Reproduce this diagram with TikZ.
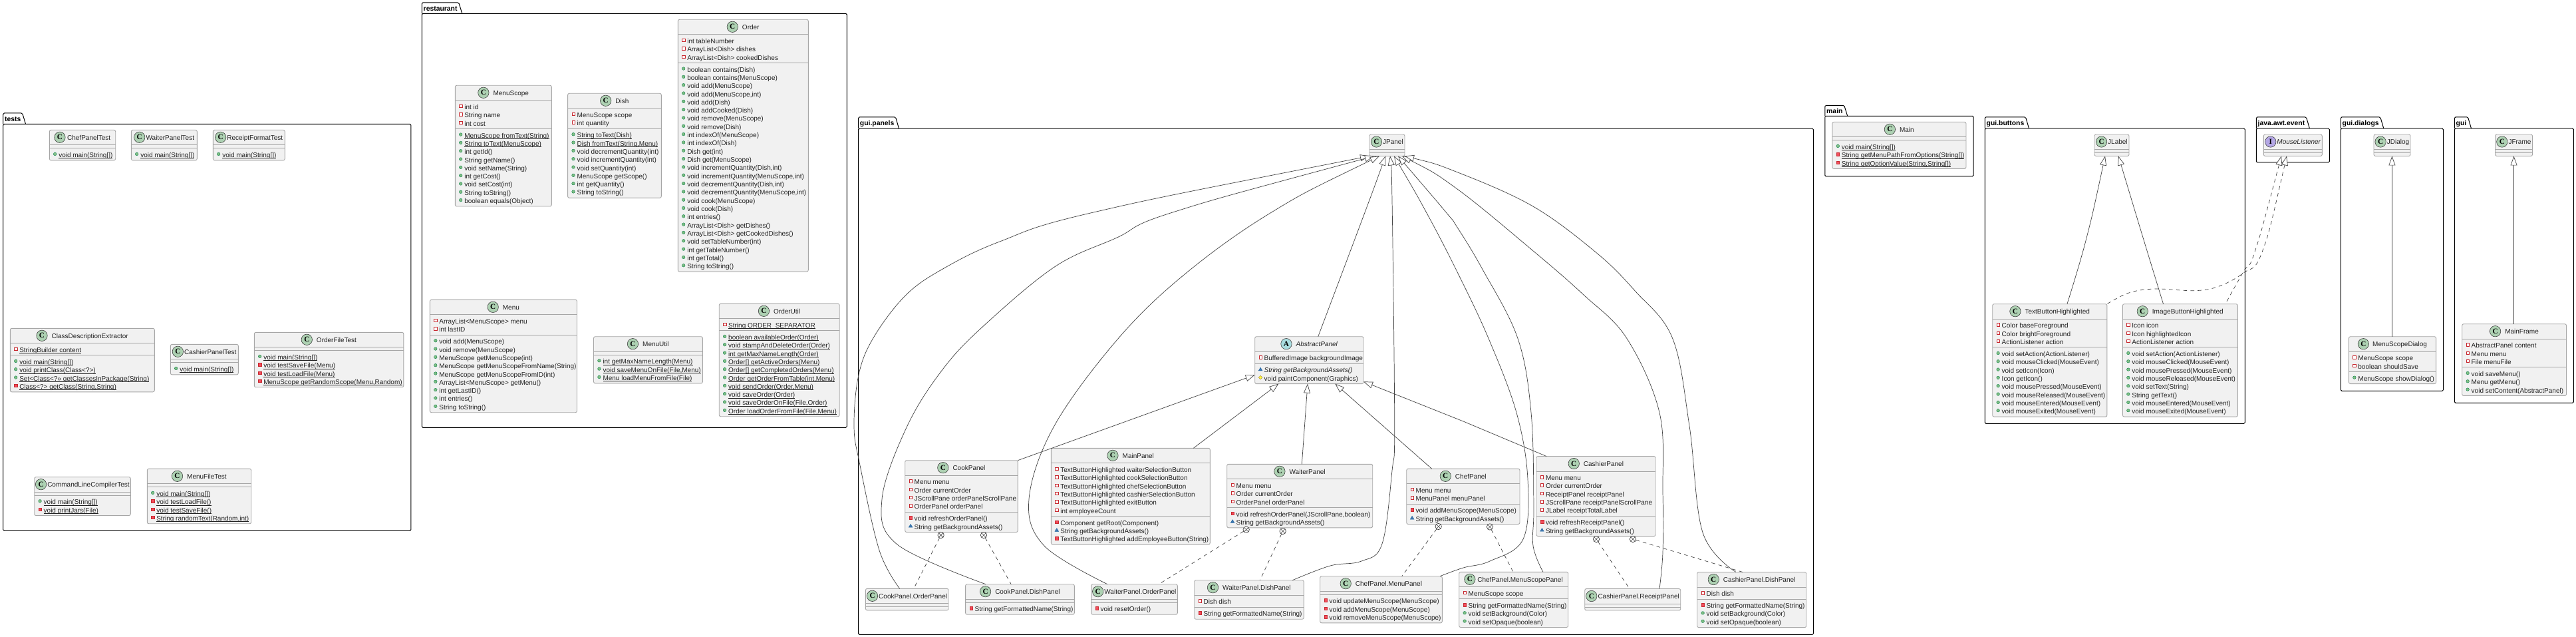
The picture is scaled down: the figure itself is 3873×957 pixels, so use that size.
\documentclass[tikz,border=0pt]{standalone}
\usepackage{fontspec}
\setmainfont{Liberation Sans}
\newfontfamily\iconfont{Liberation Serif}
\usetikzlibrary{arrows.meta}
\definecolor{kC}{HTML}{ADD1B2}
\definecolor{kA}{HTML}{A9DCDF}
\definecolor{kI}{HTML}{B4A7E5}
\definecolor{boxfill}{HTML}{F1F1F1}
\definecolor{boxline}{HTML}{A6A6A6}
\definecolor{txt}{HTML}{222222}
\definecolor{edge}{HTML}{454545}
\definecolor{visred}{HTML}{C82930}
\definecolor{visredf}{HTML}{F24D5C}
\definecolor{visgreen}{HTML}{038048}
\definecolor{visgreenf}{HTML}{84BE84}
\definecolor{visblue}{HTML}{1963A0}
\definecolor{visbluef}{HTML}{4177AF}
\definecolor{visyel}{HTML}{B38D22}
\definecolor{visyelf}{HTML}{FFFF44}
\tikzset{
  classbox/.style={draw=boxline,fill=boxfill,line width=0.45pt,rounded corners=1.2pt,inner sep=0pt,outer sep=0pt,anchor=north west},
  sepline/.style={draw=boxline,line width=0.4pt},
  memtext/.style={font=\fontsize{5}{6}\selectfont,text=txt,inner sep=0pt,outer sep=0pt,anchor=base west},
  icon/.style={circle,draw=black!75,line width=0.3pt,minimum size=8.2pt,inner sep=0pt,outer sep=0pt,text=black,font=\iconfont\bfseries\fontsize{5.6}{6}\selectfont},
  pkgframe/.style={draw=black,line width=0.5pt,rounded corners=0.8pt,inner sep=0pt,outer sep=0pt,anchor=north west},
  pkgtab/.style={draw=black,line width=0.5pt,rounded corners=0.8pt},
  pkglabel/.style={font=\bfseries\fontsize{5.2}{6}\selectfont,text=black,inner sep=0pt,outer sep=0pt,anchor=base west},
  vispf/.style={draw=visred,line width=0.25pt,fill=white},
  vispv/.style={draw=visred,line width=0.2pt,fill=visredf},
  vispb/.style={draw=visgreen,line width=0.2pt,fill=visgreenf},
  vispk/.style={draw=visblue,line width=0.2pt,fill=visbluef},
  vispt/.style={draw=visyel,line width=0.25pt,fill=visyelf},
  gen/.style={draw=edge,line width=0.36pt,{Triangle[open,fill=white,length=7pt,width=5pt]}-},
  spl/.style={smooth,tension=0.6},
  dep/.style={draw=edge,line width=0.36pt,dash pattern=on 2.8pt off 2.6pt},
  depgen/.style={draw=edge,line width=0.36pt,dash pattern=on 2.8pt off 2.6pt,{Triangle[open,fill=white,length=7pt,width=5pt]}-},
  nest/.style={circle,draw=edge,line width=0.36pt,fill=white,minimum size=4.7pt,inner sep=0pt,outer sep=0pt},
}
\newbox\undbox
\newcount\memn
\newcount\memc
\newdimen\tmpd
\makeatletter
\newcommand\measure[1]{\setbox0\hbox{\let\selectfont\pgf@selectfontorig #1}\tmpd=\wd0 \tmpd=2\tmpd\relax}
\makeatother
\newcommand\und[1]{\setbox\undbox\hbox{#1}\copy\undbox\llap{\rule[-0.7pt]{\wd\undbox}{0.25pt}}}
\def\icopf{\draw[vispf] (\ix-2.2,\iy-2.2) rectangle (\ix+2.2,\iy+2.2);}
\def\icopv{\draw[vispv] (\ix-2.3,\iy-2.3) rectangle (\ix+2.3,\iy+2.3);}
\def\icopb{\draw[vispb] (\ix,\iy) circle[radius=2.3];}
\def\icopk{\draw[vispk] (\ix-2.8,\iy+2) -- (\ix+2.8,\iy+2) -- (\ix,\iy-2.7) -- cycle;}
\def\icopt{\draw[vispt] (\ix-2.7,\iy) -- (\ix,\iy-2.7) -- (\ix+2.7,\iy) -- (\ix,\iy+2.7) -- cycle;}
\def\memcount#1#2{\advance\memn by 1\relax}
\def\memdraw#1#2{%
  \global\advance\memc by 1\relax
  \pgfmathsetmacro\iy{\curY+8.6}%
  \pgfmathsetmacro\ix{\cL+8.4}%
  \csname ico#1\endcsname
  \node[memtext] (\cid-m\the\memc) at (\cL+14,\curY+13.6) {#2};
  \pgfmathsetmacro\curY{\curY+12.32}%
}
\newcommand\Fp[1]{\mem{pf}{#1}}
\newcommand\FpS[1]{\mem{pf}{\und{#1}}}
\newcommand\Pb[1]{\mem{pb}{#1}}
\newcommand\PbS[1]{\mem{pb}{\und{#1}}}
\newcommand\Pv[1]{\mem{pv}{#1}}
\newcommand\PvS[1]{\mem{pv}{\und{#1}}}
\newcommand\Pk[1]{\mem{pk}{#1}}
\newcommand\Pt[1]{\mem{pt}{#1}}
% id, kind, title, left, top, right, fields, methods
\newcommand\cls[8]{%
  \def\cid{#1}\def\cL{#4}\def\cT{#5}\def\cR{#6}%
  \let\mem\memcount
  \memn=0 #7\edef\nF{\the\memn}%
  \memn=0 #8\edef\nM{\the\memn}%
  \pgfmathsetmacro\hF{\nF==0 ? 5 : 12.32*\nF+5.7}%
  \pgfmathsetmacro\hM{\nM==0 ? 5 : 12.32*\nM+5.7}%
  \pgfmathsetmacro\yA{\cT+22.5}%
  \pgfmathsetmacro\yB{\yA+\hF}%
  \pgfmathsetmacro\yC{\yB+\hM}%
  \pgfmathsetmacro\cW{(\cR-\cL)*0.5}%
  \pgfmathsetmacro\cH{(\yC-\cT)*0.5}%
  \node[classbox,minimum width=\cW pt,minimum height=\cH pt] (#1) at (\cL,\cT) {};
  \draw[sepline] (\cL,\yA) -- (\cR,\yA);
  \draw[sepline] (\cL,\yB) -- (\cR,\yB);
  \measure{\fontsize{5}{6}\selectfont\if C#2\else\itshape\fi #3}%
  \pgfmathsetmacro\tw{\tmpd}%
  \pgfmathsetmacro\gapw{max(1.5,min(6.5,0.17*(\cR-\cL-\tw-16.4)))}%
  \pgfmathsetmacro\gx{(\cL+\cR)/2-(16.4+\gapw+\tw)/2}%
  \node[icon,fill=k#2] (#1-icon) at (\gx+8.2,\cT+11) {#2};
  \node[memtext] (#1-title) at (\gx+16.4+\gapw,\cT+15) {\if C#2\else\itshape\fi #3};
  \let\mem\memdraw
  \let\curY\yA #7%
  \let\curY\yB #8%
}
% id, label, left, tab top, body top, right, bottom
\newcommand\pkg[7]{%
  \pgfmathsetmacro\pW{(#6-#3)*0.5}%
  \pgfmathsetmacro\pH{(#7-#5)*0.5}%
  \node[pkgframe,minimum width=\pW pt,minimum height=\pH pt] (#1) at (#3,#5) {};
  \measure{\bfseries\fontsize{5.2}{6}\selectfont #2}%
  \pgfmathsetmacro\tw{\tmpd}%
  \draw[pkgtab] (#3,#5) -- (#3,#4) -- (#3+\tw+4.6,#4) -- (#3+\tw+9.6,#5);
  \node[pkglabel] (#1-label) at (#3+2.4,#4+12.2) {#2};
}
\newcommand\lolly[3]{%
  \node[nest] (#1) at (#2,#3) {};
  \draw[draw=edge,line width=0.3pt] (#1.45) -- (#1.225) (#1.135) -- (#1.-45);
}
\begin{document}
\begin{tikzpicture}[x=0.5pt,y=-0.5pt]
\useasboundingbox (0,0) rectangle (3873,957);
\fill[white] (0,0) rectangle (3873,957);
% packages
\pkg{ptests}{tests}{4.7}{170}{186.5}{617.9}{797.3}
\pkg{prest}{restaurant}{634.3}{4}{20.3}{1273.3}{642.3}
\pkg{ppanels}{gui.panels}{1290.5}{176}{193.2}{2726.5}{953.3}
\pkg{pmain}{main}{2743.8}{158.3}{174.3}{2967}{265}
\pkg{pbuttons}{gui.buttons}{2984.3}{176}{193}{3375.3}{636.3}
\pkg{pawt}{java.awt.event}{3392.3}{176}{193}{3502.3}{244}
\pkg{pdialogs}{gui.dialogs}{3519.3}{176}{193}{3673.5}{587.3}
\pkg{pgui}{gui}{3690.3}{176}{193}{3869.4}{605.3}
% tests
\cls{chefT}{C}{ChefPanelTest}{74.3}{195.3}{173.7}{}{\PbS{void main(String[])}}
\cls{waiterT}{C}{WaiterPanelTest}{197.3}{195.3}{296.3}{}{\PbS{void main(String[])}}
\cls{receiptT}{C}{ReceiptFormatTest}{320.3}{195.3}{428.3}{}{\PbS{void main(String[])}}
\cls{cde}{C}{ClassDescriptionExtractor}{15.3}{493.3}{232.3}{\FpS{StringBuilder content}}{\PbS{void main(String[])}\PbS{void printClass(Class<?>)}\PbS{Set<Class<?>> getClassesInPackage(String)}\PvS{Class<?> getClass(String,String)}}
\cls{cashT}{C}{CashierPanelTest}{256.3}{517.3}{358.3}{}{\PbS{void main(String[])}}
\cls{orderFT}{C}{OrderFileTest}{382.3}{499.3}{606.8}{}{\PbS{void main(String[])}\PvS{void testSaveFile(Menu)}\PvS{void testLoadFile(Menu)}\PvS{MenuScope getRandomScope(Menu,Random)}}
\cls{cmdT}{C}{CommandLineCompilerTest}{51.7}{716.7}{196.3}{}{\PbS{void main(String[])}\PvS{void printJars(File)}}
\cls{menuFT}{C}{MenuFileTest}{221.3}{704.3}{377.7}{}{\PbS{void main(String[])}\PvS{void testLoadFile()}\PvS{void testSaveFile()}\PvS{String randomText(Random,int)}}
% restaurant
\cls{menuscope}{C}{MenuScope}{684.3}{128.3}{829.3}{\Fp{int id}\Fp{String name}\Fp{int cost}}{\PbS{MenuScope fromText(String)}\PbS{String toText(MenuScope)}\Pb{int getId()}\Pb{String getName()}\Pb{void setName(String)}\Pb{int getCost()}\Pb{void setCost(int)}\Pb{String toString()}\Pb{boolean equals(Object)}}
\cls{dish}{C}{Dish}{853.6}{140.3}{994.3}{\Fp{MenuScope scope}\Fp{int quantity}}{\PbS{String toText(Dish)}\PbS{Dish fromText(String,Menu)}\Pb{void decrementQuantity(int)}\Pb{void incrementQuantity(int)}\Pb{void setQuantity(int)}\Pb{MenuScope getScope()}\Pb{int getQuantity()}\Pb{String toString()}}
\cls{order}{C}{Order}{1019.3}{29.3}{1215.3}{\Fp{int tableNumber}\Fp{ArrayList<Dish> dishes}\Fp{ArrayList<Dish> cookedDishes}}{\Pb{boolean contains(Dish)}\Pb{boolean contains(MenuScope)}\Pb{void add(MenuScope)}\Pb{void add(MenuScope,int)}\Pb{void add(Dish)}\Pb{void addCooked(Dish)}\Pb{void remove(MenuScope)}\Pb{void remove(Dish)}\Pb{int indexOf(MenuScope)}\Pb{int indexOf(Dish)}\Pb{Dish get(int)}\Pb{Dish get(MenuScope)}\Pb{void incrementQuantity(Dish,int)}\Pb{void incrementQuantity(MenuScope,int)}\Pb{void decrementQuantity(Dish,int)}\Pb{void decrementQuantity(MenuScope,int)}\Pb{void cook(MenuScope)}\Pb{void cook(Dish)}\Pb{int entries()}\Pb{ArrayList<Dish> getDishes()}\Pb{ArrayList<Dish> getCookedDishes()}\Pb{void setTableNumber(int)}\Pb{int getTableNumber()}\Pb{int getTotal()}\Pb{String toString()}}
\cls{menu}{C}{Menu}{646.4}{450.3}{867.5}{\Fp{ArrayList<MenuScope> menu}\Fp{int lastID}}{\Pb{void add(MenuScope)}\Pb{void remove(MenuScope)}\Pb{MenuScope getMenuScope(int)}\Pb{MenuScope getMenuScopeFromName(String)}\Pb{MenuScope getMenuScopeFromID(int)}\Pb{ArrayList<MenuScope> getMenu()}\Pb{int getLastID()}\Pb{int entries()}\Pb{String toString()}}
\cls{menuutil}{C}{MenuUtil}{892.5}{505.7}{1056.4}{}{\PbS{int getMaxNameLength(Menu)}\PbS{void saveMenuOnFile(File,Menu)}\PbS{Menu loadMenuFromFile(File)}}
\cls{orderutil}{C}{OrderUtil}{1081.2}{456.3}{1262.2}{\FpS{String ORDER\_SEPARATOR}}{\PbS{boolean availableOrder(Order)}\PbS{void stampAndDeleteOrder(Order)}\PbS{int getMaxNameLength(Order)}\PbS{Order[] getActiveOrders(Menu)}\PbS{Order[] getCompletedOrders(Menu)}\PbS{Order getOrderFromTable(int,Menu)}\PbS{void sendOrder(Order,Menu)}\PbS{void saveOrder(Order)}\PbS{void saveOrderOnFile(File,Order)}\PbS{Order loadOrderFromFile(File,Menu)}}
% gui.panels
\cls{jpanel}{C}{JPanel}{2059}{202}{2112}{}{}
\cls{abstract}{A}{AbstractPanel}{1886.7}{505.7}{2050}{\Fp{BufferedImage backgroundImage}}{\Pk{\itshape String getBackgroundAssets()}\Pt{void paintComponent(Graphics)}}
\cls{cook}{C}{CookPanel}{1360.7}{691.7}{1530.3}{\Fp{Menu menu}\Fp{Order currentOrder}\Fp{JScrollPane orderPanelScrollPane}\Fp{OrderPanel orderPanel}}{\Pv{void refreshOrderPanel()}\Pk{String getBackgroundAssets()}}
\cls{mainp}{C}{MainPanel}{1580.4}{673.3}{1819.3}{\Fp{TextButtonHighlighted waiterSelectionButton}\Fp{TextButtonHighlighted cookSelectionButton}\Fp{TextButtonHighlighted chefSelectionButton}\Fp{TextButtonHighlighted cashierSelectionButton}\Fp{TextButtonHighlighted exitButton}\Fp{int employeeCount}}{\Pv{Component getRoot(Component)}\Pk{String getBackgroundAssets()}\Pv{TextButtonHighlighted addEmployeeButton(String)}}
\cls{waiter}{C}{WaiterPanel}{1844.7}{697.3}{2063.7}{\Fp{Menu menu}\Fp{Order currentOrder}\Fp{OrderPanel orderPanel}}{\Pv{void refreshOrderPanel(JScrollPane,boolean)}\Pk{String getBackgroundAssets()}}
\cls{chef}{C}{ChefPanel}{2114.7}{704.3}{2285}{\Fp{Menu menu}\Fp{MenuPanel menuPanel}}{\Pv{void addMenuScope(MenuScope)}\Pk{String getBackgroundAssets()}}
\cls{cashier}{C}{CashierPanel}{2310}{685.5}{2489}{\Fp{Menu menu}\Fp{Order currentOrder}\Fp{ReceiptPanel receiptPanel}\Fp{JScrollPane receiptPanelScrollPane}\Fp{JLabel receiptTotalLabel}}{\Pv{void refreshReceiptPanel()}\Pk{String getBackgroundAssets()}}
\cls{cookO}{C}{CookPanel.OrderPanel}{1301.4}{884.3}{1426}{}{}
\cls{cookD}{C}{CookPanel.DishPanel}{1451.6}{877.7}{1615.3}{}{\Pv{String getFormattedName(String)}}
\cls{waiterO}{C}{WaiterPanel.OrderPanel}{1640.6}{877.7}{1770.3}{}{\Pv{void resetOrder()}}
\cls{waiterD}{C}{WaiterPanel.DishPanel}{1795.7}{871.7}{1960.3}{\Fp{Dish dish}}{\Pv{String getFormattedName(String)}}
\cls{chefM}{C}{ChefPanel.MenuPanel}{1984.7}{865.7}{2168.3}{}{\Pv{void updateMenuScope(MenuScope)}\Pv{void addMenuScope(MenuScope)}\Pv{void removeMenuScope(MenuScope)}}
\cls{chefS}{C}{ChefPanel.MenuScopePanel}{2193.7}{859.3}{2357.7}{\Fp{MenuScope scope}}{\Pv{String getFormattedName(String)}\Pb{void setBackground(Color)}\Pb{void setOpaque(boolean)}}
\cls{cashR}{C}{CashierPanel.ReceiptPanel}{2382.7}{884.5}{2526.7}{}{}
\cls{cashD}{C}{CashierPanel.DishPanel}{2551.7}{859.5}{2715.7}{\Fp{Dish dish}}{\Pv{String getFormattedName(String)}\Pb{void setBackground(Color)}\Pb{void setOpaque(boolean)}}
% main
\cls{mainc}{C}{Main}{2754.9}{183.3}{2956}{}{\PbS{void main(String[])}\PvS{String getMenuPathFromOptions(String[])}\PvS{String getOptionValue(String,String[])}}
% gui.buttons
\cls{jlabel}{C}{JLabel}{3149}{202}{3201}{}{}
\cls{textbtn}{C}{TextButtonHighlighted}{2995.7}{456.7}{3167.9}{\Fp{Color baseForeground}\Fp{Color brightForeground}\Fp{ActionListener action}}{\Pb{void setAction(ActionListener)}\Pb{void mouseClicked(MouseEvent)}\Pb{void setIcon(Icon)}\Pb{Icon getIcon()}\Pb{void mousePressed(MouseEvent)}\Pb{void mouseReleased(MouseEvent)}\Pb{void mouseEntered(MouseEvent)}\Pb{void mouseExited(MouseEvent)}}
\cls{imgbtn}{C}{ImageButtonHighlighted}{3191.4}{456.7}{3364.3}{\Fp{Icon icon}\Fp{Icon highlightedIcon}\Fp{ActionListener action}}{\Pb{void setAction(ActionListener)}\Pb{void mouseClicked(MouseEvent)}\Pb{void mousePressed(MouseEvent)}\Pb{void mouseReleased(MouseEvent)}\Pb{void setText(String)}\Pb{String getText()}\Pb{void mouseEntered(MouseEvent)}\Pb{void mouseExited(MouseEvent)}}
\cls{mouse}{I}{MouseListener}{3403.3}{202}{3491.3}{}{}
% gui.dialogs, gui
\cls{jdialog}{C}{JDialog}{3569}{202}{3624}{}{}
\cls{scopedlg}{C}{MenuScopeDialog}{3531.4}{505.7}{3662.6}{\Fp{MenuScope scope}\Fp{boolean shouldSave}}{\Pb{MenuScope showDialog()}}
\cls{jframe}{C}{JFrame}{3751.5}{202}{3807.5}{}{}
\cls{mainframe}{C}{MainFrame}{3701.7}{486.7}{3858.5}{\Fp{AbstractPanel content}\Fp{Menu menu}\Fp{File menuFile}}{\Pb{void saveMenu()}\Pb{Menu getMenu()}\Pb{void setContent(AbstractPanel)}}
% JPanel children
\draw[gen] plot[spl] coordinates {(jpanel.south -| 2059,0) (1639.7,320) (1503,363) (1418.8,403.3) (1362,443.3) (1313.6,506.7) (1291,563) (1284,640) (1292.5,696.7) (1322,826.7) (cookO.north -| 1352.7,0)};
\draw[gen] plot[spl] coordinates {(jpanel.south -| 2066,0) (1760,320) (1680,356.7) (1587,400) (1482,486.7) (1418.8,553) (1364,640) (1326,750) (1349,818) (cookD.north -| 1482,0)};
\draw[gen] plot[spl] coordinates {(jpanel.south -| 2074,0) (1910,320) (1780,413) (1680,510) (1585,640) (1547,750) (1570,820) (waiterO.north -| 1665,0)};
\draw[gen] plot[spl] coordinates {(jpanel.south -| 2083,0) (2051.7,320) (abstract.north -| 1981.7,0)};
\draw[gen] plot[spl] coordinates {(jpanel.south -| 2090,0) (2093.3,320) (2096.7,640) (2093,707) (2078,817) (2047,843) (2000,850) (waiterD.north -| 1943.3,0)};
\draw[gen] plot[spl] coordinates {(jpanel.south -| 2096,0) (2145,320) (2190,406.7) (2237.8,508) (2280,620) (2297,720) (2290,810) (2240,843) (2200,853) (chefM.north -| 2165,0)};
\draw[gen] plot[spl] coordinates {(jpanel.south -| 2102,0) (2175,320) (2190,340) (2228,403) (2281.8,508) (2302,620) (2306,760) (2305,820) (chefS.north -| 2320,0)};
\draw[gen] plot[spl] coordinates {(jpanel.south -| 2108,0) (2190,283.3) (2304.8,376.7) (2381,443) (2445.6,508) (2495,620) (2500,740) (2500,830) (cashR.north -| 2495,0)};
\draw[gen] plot[spl] coordinates {(jpanel.south -| 2112,0) (2190,258.3) (2304.8,310) (2400.5,380) (2457.9,436.7) (2514.5,508) (2540,640) (2560,800) (cashD.north -| 2610,0)};
% AbstractPanel children
\draw[gen] (abstract.west |- 0,563.3) -- (cook.north east);
\draw[gen] (abstract.south -| 1922.3,0) -- (mainp.north -| 1794.3,0);
\draw[gen] (abstract.south -| 1966,0) -- (waiter.north -| 1957.3,0);
\draw[gen] (abstract.south -| 2007.3,0) -- (chef.north -| 2152.7,0);
\draw[gen] (abstract.east |- 0,573.3) -- (2200,633) -- (cashier.north -| 2325,0);
% nested classes
\lolly{nc1}{1414.6}{804}
\lolly{nc2}{1479}{804}
\draw[dep] (nc1) -- (cookO.north -| 1373.8,0);
\draw[dep] (nc2) -- (cookD.north -| 1520.2,0);
\lolly{nw1}{1873.7}{795.7}
\lolly{nw2}{1928.7}{798}
\draw[dep] (nw1) -- (waiterO.north -| 1742.3,0);
\draw[dep] (nw2) -- (waiterD.north -| 1894.3,0);
\lolly{nh1}{2162.7}{791}
\lolly{nh2}{2240}{791.5}
\draw[dep] (nh1) -- (chefM.north -| 2107.7,0);
\draw[dep] (nh2) -- (chefS.north -| 2275,0);
\lolly{nk1}{2400}{810}
\lolly{nk2}{2455}{810}
\draw[dep] (nk1) -- (cashR.north -| 2450,0);
\draw[dep] (nk2) -- (cashD.north -| 2620,0);
% buttons
\draw[gen] plot[spl] coordinates {(jlabel.south -| 3165,0) (3136.4,360) (textbtn.north -| 3107.9,0)};
\draw[gen] plot[spl] coordinates {(jlabel.south -| 3185,0) (3222.9,360) (imgbtn.north -| 3252.5,0)};
\draw[depgen] plot[spl] coordinates {(mouse.south -| 3438,0) (3400.5,380) (3373,410) (3336.5,430) (3300,436.7) (3240,434) (3200.7,440) (textbtn.north east)};
\draw[depgen] plot[spl] coordinates {(mouse.south -| 3430,0) (3389.5,380) (3373,408) (imgbtn.north -| 3345.7,0)};
% dialogs, frame
\draw[gen] (jdialog.south -| 3596.4,0) -- (scopedlg.north -| 3596.4,0);
\draw[gen] (jframe.south -| 3779.5,0) -- (mainframe.north -| 3779.5,0);
\end{tikzpicture}
\end{document}
